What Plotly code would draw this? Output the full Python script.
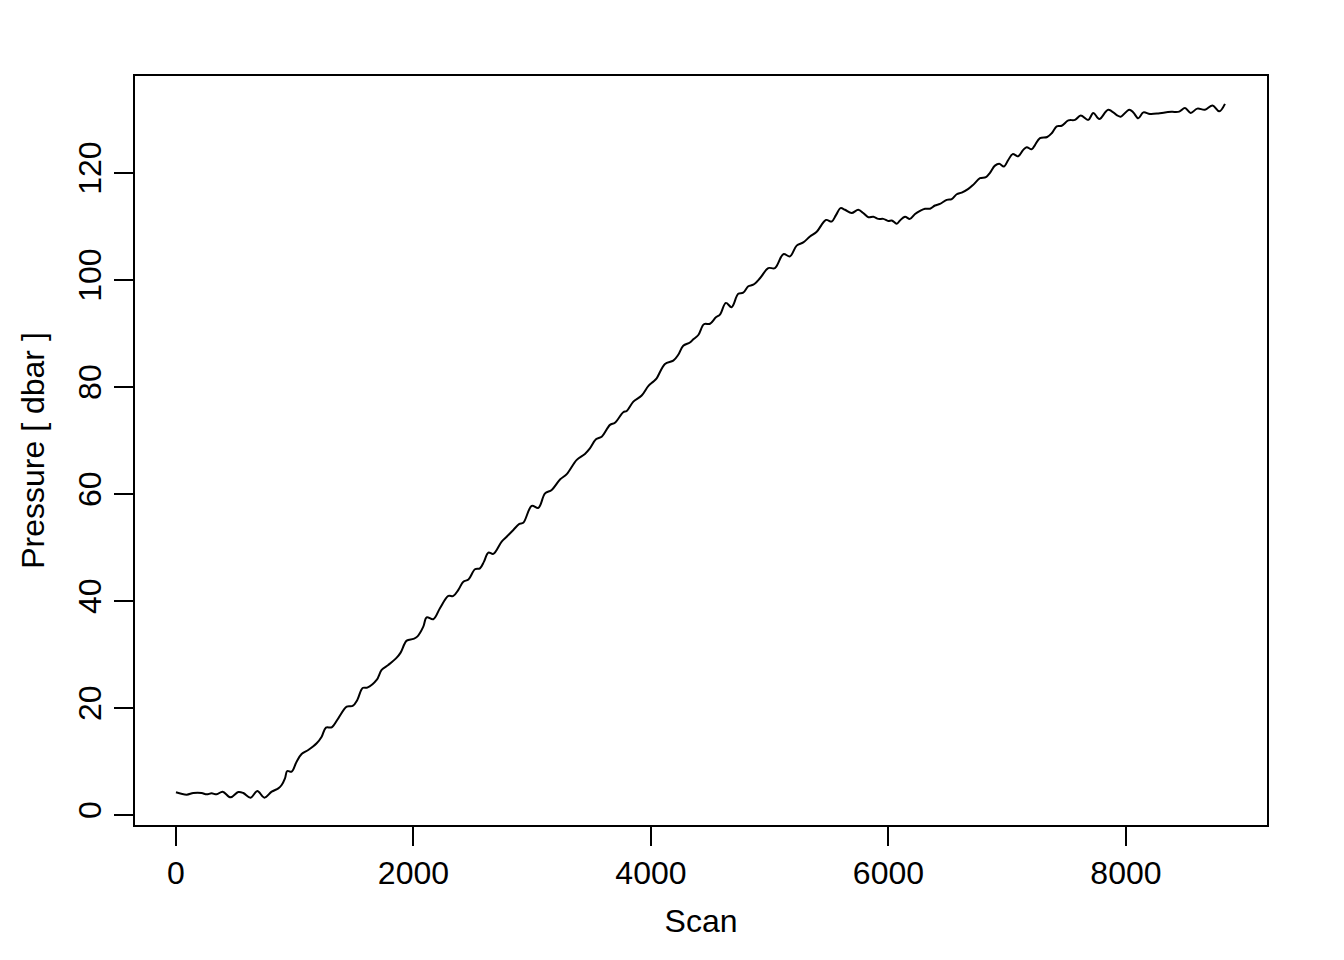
import plotly.graph_objects as go

# Scan index and pressure [dbar]
scan = [
    0, 90, 146, 216, 258, 300, 343, 393, 460, 525, 567, 629, 685, 745, 806, 862, 890,
    918, 937, 974, 1016, 1058, 1114, 1185, 1227, 1263, 1311, 1367, 1438, 1488, 1527, 1572,
    1611, 1690, 1732, 1788, 1859, 1892, 1943, 1999, 2032, 2083, 2111, 2167, 2223, 2294, 2336, 2378,
    2420, 2463, 2518, 2560, 2594, 2631, 2673, 2743, 2785, 2841, 2892, 2925, 2996, 3052,
    3108, 3164, 3234, 3291, 3375, 3444, 3486, 3537, 3585, 3655, 3697, 3767, 3796, 3852,
    3922, 3979, 4021, 4048, 4118, 4188, 4230, 4272, 4328, 4357, 4399, 4446, 4497, 4547, 4581,
    4631, 4679, 4735, 4777, 4820, 4862, 4918, 4988, 5044, 5115, 5171, 5227, 5283, 5339, 5396,
    5474, 5522, 5558, 5597, 5634, 5690, 5746, 5788, 5831, 5873, 5915, 5957, 5999, 6028,
    6070, 6097, 6139, 6181, 6224, 6266, 6308, 6350, 6392, 6434, 6491, 6533, 6575,
    6617, 6673, 6716, 6771, 6821, 6855, 6897, 6933, 6973, 7009, 7046, 7093, 7135, 7164,
    7206, 7234, 7276, 7337, 7375, 7417, 7459, 7515, 7571, 7619, 7683,
    7725, 7776, 7851, 7922, 7956, 8028, 8062, 8104, 8147, 8202, 8272, 8329, 8385, 8449,
    8497, 8545, 8601, 8665, 8730, 8786, 8834,
]
pressure = [
    4.24, 3.80, 4.11, 4.11, 3.86, 4.05, 3.86, 4.36, 3.30, 4.30, 4.11, 3.24, 4.49, 3.24, 4.36, 4.98, 5.61,
    6.85, 8.22, 8.10, 9.97, 11.40, 12.15, 13.40, 14.64, 16.32, 16.39, 18.07, 20.24, 20.37, 21.5, 23.74,
    23.8, 25.23, 27.1, 28.04, 29.4, 30.34, 32.58, 32.9, 33.33, 35.2, 36.95, 36.58, 38.63, 40.93, 40.93, 42.06,
    43.6, 44.0, 45.92, 46.1, 47.35, 49.03, 48.8, 51.1, 52.0, 53.27, 54.4, 54.6, 57.76, 57.38,
    60.1, 60.75, 62.7, 63.7, 66.36, 67.48, 68.5, 70.2, 70.7, 72.9, 73.3, 75.27, 75.5, 77.25,
    78.4, 80.2, 81.0, 81.6, 84.3, 84.9, 86.0, 87.7, 88.3, 88.9, 89.7, 91.7, 91.8, 93.0, 93.5,
    95.7, 94.9, 97.4, 97.6, 98.8, 99.1, 100.3, 102.2, 102.2, 104.8, 104.4, 106.4, 107.0, 108.1, 109.0,
    111.2, 110.9, 112.1, 113.4, 113.1, 112.5, 113.1, 112.5, 111.7, 111.8, 111.4, 111.4, 111.0, 111.1,
    110.5, 111.1, 111.8, 111.4, 112.3, 112.9, 113.3, 113.3, 113.9, 114.2, 114.95, 115.1, 116.0,
    116.3, 117.0, 117.8, 119.0, 119.2, 120.0, 121.35, 121.7, 121.2, 122.4, 123.5, 123.1, 124.3, 124.8,
    124.4, 125.2, 126.5, 126.7, 127.4, 128.7, 128.8, 129.8, 129.9, 130.7, 129.9,
    131.2, 130.05, 131.8, 130.8, 130.5, 131.8, 131.3, 130.2, 131.3, 131.0, 131.1, 131.3, 131.4, 131.45,
    132.1, 131.2, 132.0, 131.8, 132.6, 131.5, 132.9,
]

x_ticks = [0, 2000, 4000, 6000, 8000]
y_ticks = [0, 20, 40, 60, 80, 100, 120]

FONT = "Liberation Sans, Arial, Helvetica, sans-serif"
FS = 32

fig = go.Figure()
fig.add_trace(go.Scatter(
    x=scan, y=pressure, mode="lines",
    line=dict(color="black", width=2, shape="spline", smoothing=1.0),
    hoverinfo="skip", showlegend=False,
))

fig.update_layout(
    width=1328, height=944,
    margin=dict(l=127, r=69, t=68, b=127),
    paper_bgcolor="white", plot_bgcolor="white",
    font=dict(family=FONT, size=FS, color="black"),
    showlegend=False,
)
fig.update_xaxes(
    range=[-345, 9188], tickvals=x_ticks, ticktext=[str(v) for v in x_ticks],
    showgrid=False, zeroline=False,
    showline=True, mirror=True, linecolor="black", linewidth=1.5,
    ticks="outside", ticklen=19, tickwidth=1.5, tickcolor="black",
    tickfont=dict(size=FS),
    title=dict(text="Scan", font=dict(size=FS), standoff=19),
)
fig.update_yaxes(
    range=[-1.87, 138.1], tickvals=y_ticks, ticktext=[str(v) for v in y_ticks],
    showgrid=False, zeroline=False,
    showline=True, mirror=True, linecolor="black", linewidth=1.5,
    ticks="outside", ticklen=19, tickwidth=1.5, tickcolor="black",
    tickangle=-90, tickfont=dict(size=FS), ticklabelstandoff=0,
    title=dict(text="Pressure [ dbar ]", font=dict(size=FS), standoff=18),
)

fig.write_html("out.html")
